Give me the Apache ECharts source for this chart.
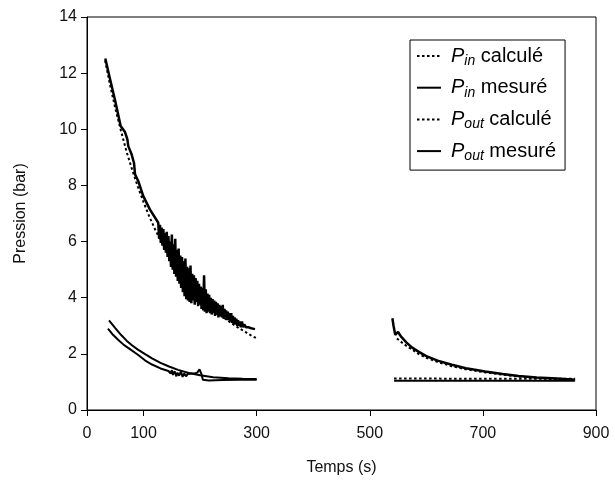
<!DOCTYPE html>
<html><head><meta charset="utf-8">
<script src="https://cdn.jsdelivr.net/npm/echarts@6/dist/echarts.min.js"></script>
<style>html,body{margin:0;padding:0;background:#fff}#c{width:615px;height:482px}</style>
</head><body><div id="c"></div>
<script>
// ---- data (time in s, pressure in bar) ----
const xTickValues = [0, 100, 300, 500, 700, 900];
const seriesNames = ['Pin calculé', 'Pin mesuré', 'Pout calculé', 'Pout mesuré'];

// Phase 1 (about 32 s to 300 s)
const pInCalc1 = [[32,12.45],[40,11.65],[50,10.75],[60,9.95],[70,9.2],[80,8.55],[90,7.95],[100,7.4],[110,6.9],[120,6.45],[130,6.05],[140,5.68],[150,5.35],[160,5.05],[170,4.77],[180,4.5],[190,4.26],[200,4.04],[210,3.84],[220,3.65],[230,3.48],[240,3.32],[250,3.17],[260,3.03],[270,2.9],[280,2.78],[290,2.66],[300,2.55]];
const pInMeas1 = [[32.4,12.52],[40.7,11.79],[50,11.0],[59.5,10.12],[61.3,10.08],[67.2,9.9],[71.3,9.65],[73,9.4],[79,9.1],[83.1,8.8],[84.9,8.4],[90.7,8.15],[99.5,7.62],[111.4,7.14],[126,6.67],
 [127.5,6.1],[129,6.6],[130.5,5.95],[132,6.5],[133.5,5.85],[135,6.45],[136.5,5.7],[138,6.3],[139.5,5.6],[141,6.35],[142.5,5.45],[144,6.2],[145.5,5.3],[147,6.0],[148.5,5.1],[150,6.25],[151.5,5.0],[153,5.9],[154.5,4.85],[156,6.1],[157.5,4.75],[159,5.7],[160.5,4.6],[162,5.75],[163.5,4.5],[165,5.5],[166.5,4.35],[168,5.45],[169.5,4.2],[171,5.3],[172.5,4.05],[174,5.4],[175.5,3.95],[177,5.1],[178.5,3.9],[180,5.05],[181.5,3.85],[183,5.15],[184.5,3.8],[186,4.85],[187.5,3.9],[189,4.8],[190.5,3.75],[192,4.7],[193.5,3.85],[195,4.6],[196.5,3.7],[198,4.5],[199.5,3.75],[201,4.4],[202.5,3.6],[204,4.35],[205.5,3.55],[207,4.8],[208.5,3.5],[210,4.3],[211.5,3.45],[213,4.15],[214.5,3.5],[216,4.1],[217.5,3.45],[219,4.0],[220.5,3.4],[222,3.95],[223.5,3.45],[225,3.9],[226.5,3.35],[228,3.85],[229.5,3.4],[231,3.8],[232.5,3.3],[234,3.75],[235.5,3.35],[237,3.7],[238.5,3.3],[240,3.75],[241.5,3.25],[243,3.6],[244.5,3.3],[246,3.55],[247.5,3.2],[249,3.5],[250.5,3.2],[252,3.45],[253.5,3.15],[255,3.45],[256.5,3.1],[258,3.35],[259.5,3.05],[261,3.3],[262.5,3.05],[264,3.25],[265.5,3.0],[267,3.2],[268.5,3.0],[270,3.15],[272,2.95],[274,3.15],[276,2.95],[278,3.05],[281,2.95],[285,2.95],[289,2.92],[293,2.9],[297,2.88]];
const pOutCalc1 = [[38.9,3.19],[50,2.92],[60,2.68],[70,2.47],[80,2.3],[90,2.15],[102,2.0],[115,1.84],[130,1.68],[145,1.55],[161,1.43],[180,1.32],[200,1.24],[223,1.17],[250,1.13],[275,1.11],[300,1.1]];
const pOutMeas1 = [[37,2.9],[45,2.7],[55,2.5],[65,2.32],[76,2.17],[90,1.97],[103,1.76],[115,1.62],[130,1.48],[144,1.39],[148,1.3],[150,1.42],[152,1.25],[155,1.38],[158,1.2],[160,1.33],[163,1.22],[166,1.38],[169,1.18],[172,1.3],[175,1.2],[178,1.28],[181,1.25],[185,1.3],[190,1.3],[195,1.33],[199,1.45],[202,1.3],[205,1.08],[207,1.02],[215,1.05],[240,1.07],[270,1.08],[300,1.08]];

// Phase 2 (about 540 s to 863 s)
const pInCalc2 = [[548,2.55],[560,2.35],[575,2.15],[586,2.0],[600,1.86],[620,1.71],[645,1.56],[670,1.45],[704,1.34],[735,1.26],[763,1.19],[795,1.14],[822,1.11],[845,1.09],[863,1.08]];
const pInMeas2 = [[540,3.27],[542,3.0],[545,2.68],[550,2.78],[555,2.62],[565,2.4],[575,2.22],[586,2.08],[600,1.92],[620,1.76],[645,1.61],[670,1.49],[704,1.37],[735,1.28],[763,1.21],[795,1.16],[822,1.13],[845,1.1],[863,1.08]];
const pOutCalc2 = [[543,1.12],[600,1.12],[700,1.11],[800,1.11],[863,1.11]];
const pOutMeas2 = [[543,1.04],[600,1.04],[700,1.04],[800,1.04],[863,1.04]];

// ---- chart ----
const FONT = 'Arial, "Liberation Sans", sans-serif';
const legendText = {
  'Pin calculé': '{p|P}{s|in}{t| calculé}',
  'Pin mesuré': '{p|P}{s|in}{t| mesuré}',
  'Pout calculé': '{p|P}{s|out}{t| calculé}',
  'Pout mesuré': '{p|P}{s|out}{t| mesuré}'
};
const dotted = { color: '#000', width: 2, type: [2.5, 2.5] };
const solid = { color: '#000', width: 2, type: 'solid' };
const solidThick = { color: '#000', width: 2.5, type: 'solid' };
function mk(name, data, ls) {
  return { type: 'line', name: name, data: data, symbol: 'none', showSymbol: false,
           lineStyle: ls, itemStyle: { color: '#000' }, emphasis: { disabled: true }, silent: true };
}
const chart = echarts.init(document.getElementById('c'), null, { renderer: 'canvas' });
chart.setOption({
  animation: false,
  backgroundColor: '#fff',
  textStyle: { fontFamily: FONT },
  grid: { left: 87, right: 19, top: 17, bottom: 72, show: true, borderColor: '#000', borderWidth: 1, containLabel: false, outerBoundsMode: 'none' },
  legend: {
    data: seriesNames,
    orient: 'vertical', left: 410, top: 40,
    padding: [6, 9, 7, 6], itemGap: 9.7, itemWidth: 24, itemHeight: 14,
    backgroundColor: '#fff', borderColor: '#000', borderWidth: 1, borderRadius: 0,
    selectedMode: false,
    itemStyle: { opacity: 0 },
    formatter: function (n) { return legendText[n]; },
    textStyle: {
      color: '#000', fontFamily: FONT,
      rich: {
        p: { fontStyle: 'italic', fontSize: 20, lineHeight: 24, fontFamily: FONT, color: '#000', padding: [0, 0, 0, 5] },
        s: { fontStyle: 'italic', fontSize: 14, lineHeight: 14, verticalAlign: 'bottom', fontFamily: FONT, color: '#000' },
        t: { fontSize: 20, lineHeight: 24, fontFamily: FONT, color: '#000' }
      }
    }
  },
  xAxis: {
    type: 'value', min: 0, max: 900, interval: 100,
    name: 'Temps (s)', nameLocation: 'middle', nameGap: 50,
    nameTextStyle: { fontSize: 16, color: '#111', fontFamily: FONT },
    axisLine: { show: true, onZero: false, lineStyle: { color: '#000', width: 1 } },
    axisTick: { show: true, inside: false, length: 6, lineStyle: { color: '#000' }, customValues: xTickValues },
    axisLabel: { fontSize: 16, color: '#111', margin: 16, fontFamily: FONT, customValues: xTickValues },
    splitLine: { show: false }
  },
  yAxis: {
    type: 'value', min: 0, max: 14, interval: 2,
    name: 'Pression (bar)', nameLocation: 'middle', nameGap: 58, nameRotate: 90,
    nameTextStyle: { fontSize: 16, color: '#111', fontFamily: FONT },
    axisLine: { show: true, onZero: false, lineStyle: { color: '#000', width: 1 } },
    axisTick: { show: true, inside: false, length: 6, lineStyle: { color: '#000' } },
    axisLabel: { fontSize: 16, color: '#111', margin: 10, fontFamily: FONT },
    splitLine: { show: false }
  },
  series: [
    mk('Pin calculé', pInCalc1, dotted),
    mk('Pin calculé', pInCalc2, dotted),
    mk('Pin mesuré', pInMeas1, solidThick),
    mk('Pin mesuré', pInMeas2, solidThick),
    mk('Pout mesuré', pOutMeas2, solid),
    mk('Pout mesuré', pOutMeas1, solid),
    mk('Pout calculé', pOutCalc2, dotted),
    mk('Pout calculé', pOutCalc1, solid)
  ]
});
</script>
</body></html>
